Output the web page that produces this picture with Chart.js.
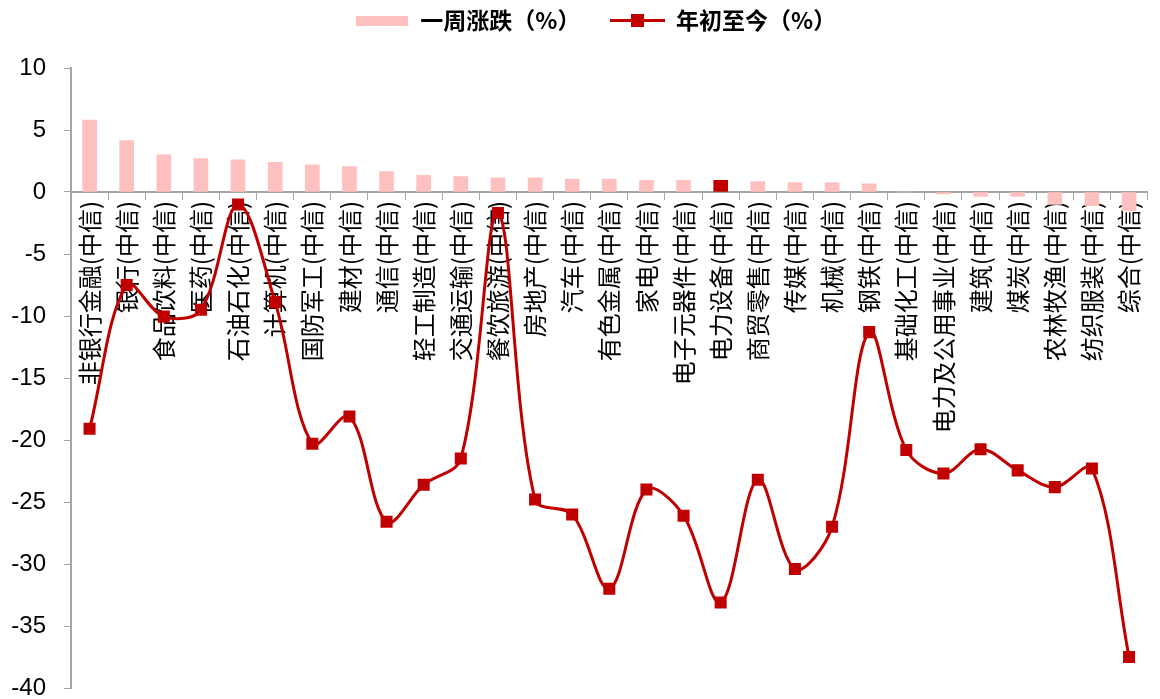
<!DOCTYPE html>
<html>
<head>
<meta charset="utf-8">
<script src="https://cdn.jsdelivr.net/npm/chart.js@4/dist/chart.umd.min.js"></script>
<style>
  html, body { margin: 0; padding: 0; background: #fff; }
  #wrap { width: 1160px; height: 699px; }
</style>
</head>
<body>
<div id="wrap"><canvas id="c" width="1160" height="699"></canvas></div>
<script>
const categories = [
  '非银行金融(中信)', '银行(中信)', '食品饮料(中信)', '医药(中信)', '石油石化(中信)',
  '计算机(中信)', '国防军工(中信)', '建材(中信)', '通信(中信)', '轻工制造(中信)',
  '交通运输(中信)', '餐饮旅游(中信)', '房地产(中信)', '汽车(中信)', '有色金属(中信)',
  '家电(中信)', '电子元器件(中信)', '电力设备(中信)', '商贸零售(中信)', '传媒(中信)',
  '机械(中信)', '钢铁(中信)', '基础化工(中信)', '电力及公用事业(中信)', '建筑(中信)',
  '煤炭(中信)', '农林牧渔(中信)', '纺织服装(中信)', '综合(中信)'
];
const weeklyChange = [
  5.8, 4.15, 3.0, 2.7, 2.6, 2.4, 2.2, 2.05, 1.65, 1.35,
  1.25, 1.15, 1.15, 1.05, 1.05, 0.95, 0.95, 0.95, 0.85, 0.75,
  0.75, 0.65, 0.0, -0.15, -0.35, -0.35, -1.0, -1.1, -1.5
];
const ytdChange = [
  -19.1, -7.5, -10.05, -9.5, -1.0, -8.9, -20.3, -18.1, -26.6, -23.6,
  -21.5, -1.7, -24.8, -26.0, -32.0, -24.0, -26.1, -33.1, -23.2, -30.4,
  -27.0, -11.3, -20.8, -22.7, -20.75, -22.45, -23.8, -22.3, -37.5
];
const yTicks = [10, 5, 0, -5, -10, -15, -20, -25, -30, -35, -40];
const seriesNames = ['一周涨跌（%）', '年初至今（%）'];
const highlightCategory = '电力设备(中信)';

const PINK = '#ffc0c0';
const RED = '#c00000';
const AXIS = '#a6a6a6';

function legendBarImg() {
  const c = document.createElement('canvas');
  c.width = 52; c.height = 10;
  const x = c.getContext('2d');
  x.fillStyle = PINK; x.fillRect(0, 0, 52, 10);
  return c;
}
function legendLineImg() {
  const c = document.createElement('canvas');
  c.width = 55; c.height = 13;
  const x = c.getContext('2d');
  x.fillStyle = RED;
  x.fillRect(0, 5, 55, 3);
  x.fillRect(21, 0, 13, 13);
  return c;
}
const legendImgs = [legendBarImg(), legendLineImg()];

const shiftLegend = {
  id: 'shiftLegend',
  afterLayout(chart) {
    const lg = chart.legend;
    if (lg) {
      lg.left += 16; lg.right += 16;
      lg.top -= 26; lg.bottom -= 26;
    }
  }
};

new Chart(document.getElementById('c'), {
  type: 'bar',
  data: {
    labels: categories,
    datasets: [
      {
        type: 'line',
        label: seriesNames[1],
        data: ytdChange,
        borderColor: RED,
        backgroundColor: RED,
        borderWidth: 3,
        tension: 0.35,
        pointStyle: 'rect',
        pointRadius: 8.5,
        pointBorderWidth: 0,
        pointBackgroundColor: RED,
        order: 0
      },
      {
        type: 'bar',
        label: seriesNames[0],
        data: weeklyChange,
        backgroundColor: (ctx) => categories[ctx.dataIndex] === highlightCategory ? RED : PINK,
        barThickness: 14,
        order: 1
      }
    ]
  },
  options: {
    responsive: false,
    animation: false,
    layout: { padding: { top: 5, right: 1, left: 0, bottom: 0 } },
    plugins: {
      tooltip: { enabled: false },
      legend: {
        position: 'top',
        labels: {
          usePointStyle: true,
          pointStyleWidth: 54,
          padding: 30,
          color: '#000',
          font: { family: '"Noto Sans CJK SC", sans-serif', size: 23, weight: 'bold' },
          generateLabels(chart) {
            return [0, 1].map(i => ({
              text: seriesNames[i],
              pointStyle: legendImgs[i],
              fillStyle: i === 0 ? PINK : RED,
              strokeStyle: i === 0 ? PINK : RED,
              lineWidth: 0,
              hidden: false,
              datasetIndex: i === 0 ? 1 : 0
            }));
          }
        }
      }
    },
    scales: {
      x: {
        position: { y: 0 },
        offset: true,
        grid: {
          display: true,
          drawOnChartArea: false,
          drawTicks: true,
          tickLength: 7,
          color: AXIS,
          offset: true
        },
        border: { display: true, color: AXIS, width: 2 },
        ticks: {
          autoSkip: false,
          minRotation: 90,
          maxRotation: 90,
          padding: 2,
          color: '#000',
          font: { family: '"Noto Sans CJK SC", sans-serif', size: 24 }
        }
      },
      y: {
        min: yTicks[yTicks.length - 1],
        max: yTicks[0],
        afterBuildTicks(scale) { scale.ticks = yTicks.map(v => ({ value: v })); },
        afterFit(scale) {
          scale.width = 71;
          scale.paddingTop = 0;
          scale.paddingBottom = 11;
        },
        grid: {
          display: true,
          drawOnChartArea: false,
          drawTicks: true,
          tickLength: 7,
          color: AXIS
        },
        border: { display: true, color: AXIS, width: 2 },
        ticks: {
          padding: 18,
          color: '#000',
          font: { family: '"Liberation Sans", Arial, sans-serif', size: 24 }
        }
      }
    }
  },
  plugins: [shiftLegend]
});
</script>
</body>
</html>
